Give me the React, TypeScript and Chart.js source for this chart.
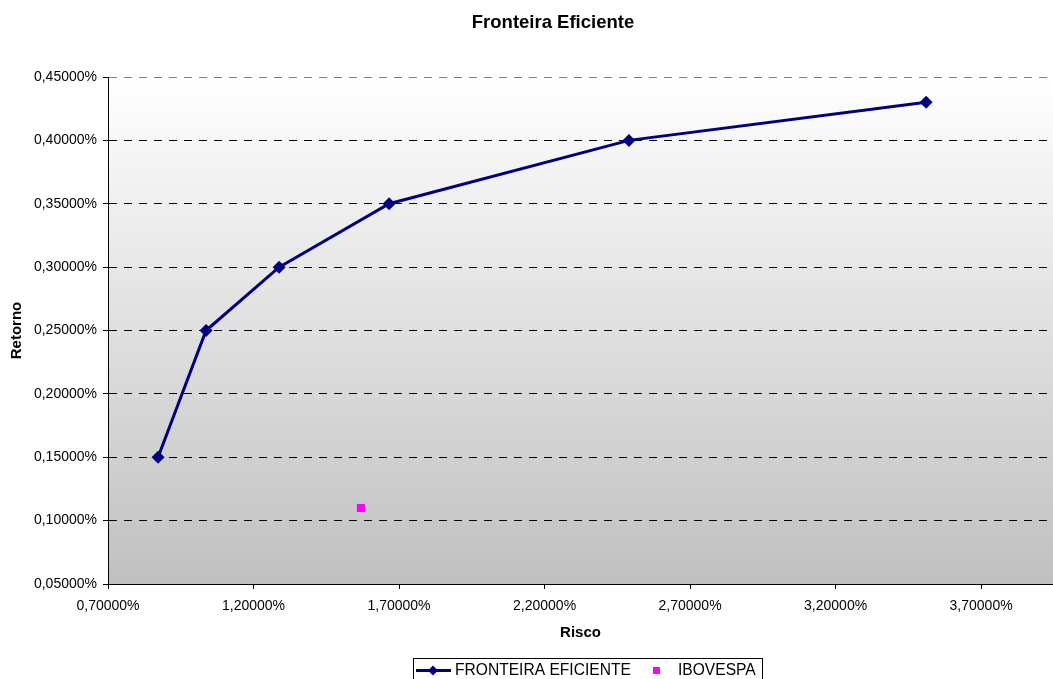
import React, { useEffect, useRef } from "react";
import { Chart, registerables } from "chart.js";

Chart.register(...registerables);

const chartTitle = "Fronteira Eficiente";
const xAxisTitle = "Risco";
const yAxisTitle = "Retorno";

const frontierLabel = "FRONTEIRA EFICIENTE";
const frontierRisk = [0.872, 1.037, 1.288, 1.666, 2.49, 3.511];
const frontierReturn = [0.15, 0.25, 0.3, 0.35, 0.4, 0.43];

const iboLabel = "IBOVESPA";
const iboRisk = [1.569];
const iboReturn = [0.11];

const xTicks = [0.7, 1.2, 1.7, 2.2, 2.7, 3.2, 3.7];
const yTicks = [0.05, 0.1, 0.15, 0.2, 0.25, 0.3, 0.35, 0.4, 0.45];
const xMin = 0.7;
const xMax = 3.947;
const yMin = 0.05;
const yMax = 0.45;

const FONT = "'Liberation Sans', Arial, Helvetica, sans-serif";
const NAVY = "#000080";
const MAGENTA = "#ff00ff";

const fmt = (v: number | string) => Number(v).toFixed(5).replace(".", ",") + "%";

const backgroundPlugin = {
  id: "plotGradient",
  beforeDraw(chart: any) {
    const { ctx, chartArea } = chart;
    if (!chartArea) return;
    const g = ctx.createLinearGradient(0, chartArea.top, 0, chartArea.bottom);
    g.addColorStop(0, "#ffffff");
    g.addColorStop(1, "#c0c0c0");
    ctx.save();
    ctx.fillStyle = g;
    ctx.fillRect(chartArea.left, chartArea.top, chartArea.right - chartArea.left, chartArea.bottom - chartArea.top);
    ctx.restore();
  },
};

const decorPlugin = {
  id: "decor",
  afterDraw(chart: any) {
    const { ctx } = chart;
    ctx.save();
    ctx.fillStyle = "#000";
    ctx.font = `bold 18.5px ${FONT}`;
    ctx.textAlign = "center";
    ctx.textBaseline = "middle";
    ctx.fillText(chartTitle, 553, 23);

    ctx.strokeStyle = "#000";
    ctx.lineWidth = 1;
    ctx.strokeRect(413.5, 658.5, 349, 40);
    const ly = 670.5;
    ctx.strokeStyle = NAVY;
    ctx.lineWidth = 3;
    ctx.beginPath();
    ctx.moveTo(416, ly);
    ctx.lineTo(451, ly);
    ctx.stroke();
    ctx.fillStyle = NAVY;
    ctx.beginPath();
    const r = 5;
    ctx.moveTo(433, ly - r);
    ctx.lineTo(433 + r, ly);
    ctx.lineTo(433, ly + r);
    ctx.lineTo(433 - r, ly);
    ctx.closePath();
    ctx.fill();
    ctx.fillStyle = "#000";
    ctx.font = `15.6px ${FONT}`;
    ctx.textAlign = "left";
    ctx.fillText(frontierLabel, 455, ly);
    ctx.fillStyle = MAGENTA;
    ctx.fillRect(653, ly - 3.5, 7, 7);
    ctx.fillStyle = "#000";
    ctx.fillText(iboLabel, 678, ly);
    ctx.restore();
  },
};

export default function App() {
  const ref = useRef<HTMLCanvasElement | null>(null);

  useEffect(() => {
    if (!ref.current) return;
    const chart = new Chart(ref.current, {
      type: "scatter",
      data: {
        datasets: [
          {
            label: frontierLabel,
            data: frontierRisk.map((x, i) => ({ x, y: frontierReturn[i] })),
            showLine: true,
            borderColor: NAVY,
            backgroundColor: NAVY,
            borderWidth: 3,
            pointStyle: "rectRot",
            pointRadius: 6.5,
            pointBorderWidth: 0,
            tension: 0,
          } as any,
          {
            label: iboLabel,
            data: iboRisk.map((x, i) => ({ x, y: iboReturn[i] })),
            showLine: false,
            borderColor: MAGENTA,
            backgroundColor: MAGENTA,
            pointStyle: "rect",
            pointRadius: 5.7,
            pointBorderWidth: 0,
          } as any,
        ],
      },
      options: {
        animation: false,
        responsive: true,
        maintainAspectRatio: false,
        layout: { autoPadding: false, padding: { top: 77, right: 0, bottom: 0, left: 0 } },
        plugins: {
          legend: { display: false },
          title: { display: false },
          tooltip: { enabled: false },
        },
        scales: {
          x: {
            type: "linear",
            position: "bottom",
            min: xMin,
            max: xMax,
            afterBuildTicks: (scale: any) => {
              scale.ticks = xTicks.map((v) => ({ value: v }));
            },
            afterFit: (scale: any) => {
              scale.height = 95;
              scale.paddingRight = 0;
              scale.paddingLeft = 0;
            },
            ticks: {
              callback: (v: any) => fmt(v),
              color: "#000",
              font: { family: FONT, size: 14 },
              padding: 9,
              maxRotation: 0,
              autoSkip: false,
            },
            grid: {
              drawOnChartArea: false,
              drawTicks: true,
              tickLength: 5,
              color: "#000",
            },
            border: { display: true, color: "#000", width: 1 },
            title: {
              display: true,
              text: xAxisTitle,
              color: "#000",
              font: { family: FONT, size: 15, weight: "bold" },
              padding: { top: 0, bottom: 37 },
            },
          },
          y: {
            type: "linear",
            position: "left",
            min: yMin,
            max: yMax,
            afterBuildTicks: (scale: any) => {
              scale.ticks = yTicks.map((v) => ({ value: v }));
            },
            afterFit: (scale: any) => {
              scale.width = 108;
            },
            ticks: {
              callback: (v: any) => fmt(v),
              color: "#000",
              font: { family: FONT, size: 14 },
              padding: 6,
              autoSkip: false,
            },
            grid: {
              drawTicks: true,
              tickLength: 5,
              tickColor: "#000",
              tickBorderDash: [],
              color: (c: any) => (c.tick && c.tick.value > 0.449 ? "#808080" : "#000"),
            } as any,
            border: { display: true, color: "#000", width: 1, dash: [8, 7] },
            title: {
              display: true,
              text: yAxisTitle,
              color: "#000",
              font: { family: FONT, size: 15, weight: "bold" },
              padding: { top: 8, bottom: 0 },
            },
          },
        },
      },
      plugins: [backgroundPlugin, decorPlugin],
    } as any);
    return () => chart.destroy();
  }, []);

  return (
    <div style={{ position: "absolute", left: 0, top: 0, width: 1053, height: 679 }}>
      <canvas ref={ref} />
    </div>
  );
}
